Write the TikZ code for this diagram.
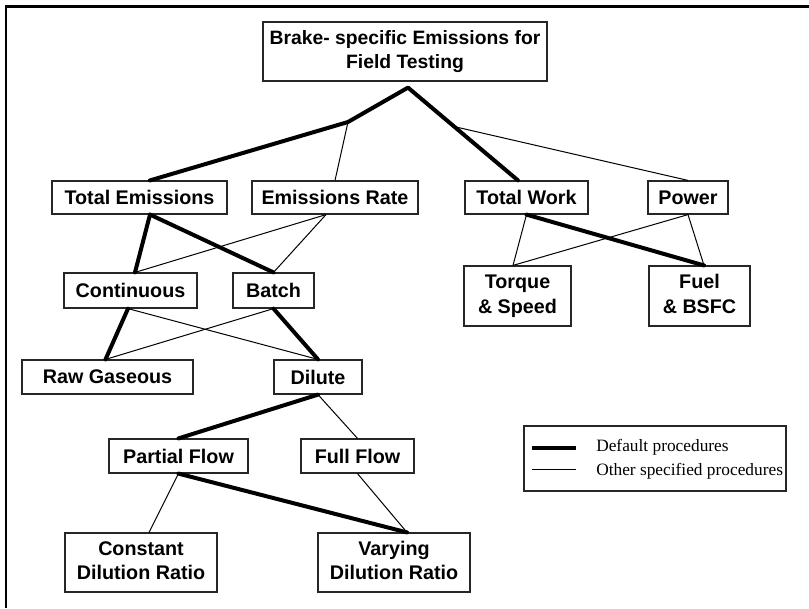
\documentclass[tikz,border=0pt]{standalone}
\usepackage{fontspec}
\setmainfont{Liberation Serif}
\setsansfont{Liberation Sans}
\usetikzlibrary{calc}
\begin{document}
\begin{tikzpicture}[x=0.75pt,y=-0.75pt,
  box/.style={draw=black!85, line width=0.9pt, inner sep=0pt, align=center,
    font=\sffamily\bfseries\fontsize{14.8}{18.5}\selectfont},
  sz/.style 2 args={minimum width=#1*0.75pt, minimum height=#2*0.75pt},
  dflt/.style={line width=3pt, line cap=round, line join=round},
  other/.style={line width=0.75pt},
  legtext/.style={anchor=west, inner sep=0pt, font=\fontsize{13}{15}\selectfont}]
\useasboundingbox (0,0) rectangle (809,608);

% outer frame (top and left edges)
\draw[line width=2pt] (6,608) -- (6,6.5) -- (809,6.5);

% boxes
\node[box, sz={284}{59}, font=\sffamily\bfseries\fontsize{14.5}{18.5}\selectfont] (top) at (405,51.5) {\strut Brake- specific Emissions for\\\strut Field Testing};
\node[box, sz={175}{33}] (te) at (139.5,197.5) {Total Emissions};
\node[box, sz={166}{33}] (er) at (335,197.5) {Emissions Rate};
\node[box, sz={123}{33}] (tw) at (526.5,197.5) {Total Work};
\node[box, sz={80}{33}] (pw) at (688,197.5) {Power};
\node[box, sz={133}{35}] (cont) at (130.5,290.5) {Continuous};
\node[box, sz={81}{35}] (batch) at (273.5,290.5) {Batch};
\node[box, sz={107}{60}] (tq) at (517.5,296) {\strut Torque\\\strut\& Speed};
\node[box, sz={101}{60}] (fuel) at (699.5,296) {\strut Fuel\\\strut\& BSFC};
\node[box, sz={171}{34}] (raw) at (107.5,377) {Raw Gaseous};
\node[box, sz={88}{34}] (dil) at (318,377) {Dilute};
\node[box, sz={139}{34}] (pf) at (178.5,456) {Partial Flow};
\node[box, sz={113}{34}] (ff) at (357.5,456) {Full Flow};
\node[box, sz={152}{59}] (cdr) at (141,562.5) {\strut Constant\\\strut Dilution Ratio};
\node[box, sz={152}{59}] (vdr) at (394,562.5) {\strut Varying\\\strut Dilution Ratio};

% branch points and attachment points
\coordinate (apex) at ($(top.south)+(3,6)$);
\coordinate (j1) at (348,122);
\coordinate (tetop) at ($(te.north)+(10.5,0)$);
\coordinate (tebot) at ($(te.south)+(10.5,0)$);
\coordinate (twtop) at ($(tw.north)+(-8.5,0)$);
\coordinate (j2) at ($(apex)!0.42!(twtop)$);
\coordinate (contop) at ($(cont.north)+(4.5,0)$);
\coordinate (conbot) at ($(cont.south)+(-2.5,0)$);
\coordinate (rawtop) at ($(raw.north)+(-2,0)$);
\coordinate (tqtop) at ($(tq.north)+(-4.5,0)$);
\coordinate (fueltop) at ($(fuel.north)+(4.5,0)$);
\coordinate (cdrtop) at ($(cdr.north)+(8,0)$);
\coordinate (vdrtop) at ($(vdr.north)+(13,0)$);
\coordinate (erbot) at ($(er.south)+(-9,0)$);

% default procedures
\draw[dflt] (tetop) -- (j1) -- (apex) -- (twtop);
\draw[dflt] (tebot) -- (contop);
\draw[dflt] (tebot) -- (batch.north);
\draw[dflt] (conbot) -- (rawtop);
\draw[dflt] (batch.south) -- (dil.north);
\draw[dflt] (dil.south) -- (pf.north);
\draw[dflt] (pf.south) -- (vdrtop);
\draw[dflt] (tw.south) -- (fueltop);

% other specified procedures
\draw[other] (j1) -- (er.north);
\draw[other] (j2) -- (pw.north);
\draw[other] (erbot) -- (contop);
\draw[other] (erbot) -- (batch.north);
\draw[other] (conbot) -- (dil.north);
\draw[other] (batch.south) -- (rawtop);
\draw[other] (dil.south) -- (ff.north);
\draw[other] (pf.south) -- (cdrtop);
\draw[other] (ff.south) -- (vdrtop);
\draw[other] (tw.south) -- (tqtop);
\draw[other] (pw.south) -- (tqtop);
\draw[other] (pw.south) -- (fueltop);

% legend
\node[draw=black!85, line width=0.9pt, minimum width=262*0.75pt, minimum height=65*0.75pt, inner sep=0pt] (leg) at (655,458.5) {};
\coordinate (la) at (532,448);
\coordinate (lb) at (576,448);
\coordinate (lc) at (532,469);
\coordinate (ld) at (576,469);
\draw[line width=3.4pt] (la) -- (lb);
\draw[other] (lc) -- (ld);
\node[legtext] (l1) at (596,447) {Default procedures};
\node[legtext] (l2) at (596,471) {Other specified procedures};
\end{tikzpicture}
\end{document}
